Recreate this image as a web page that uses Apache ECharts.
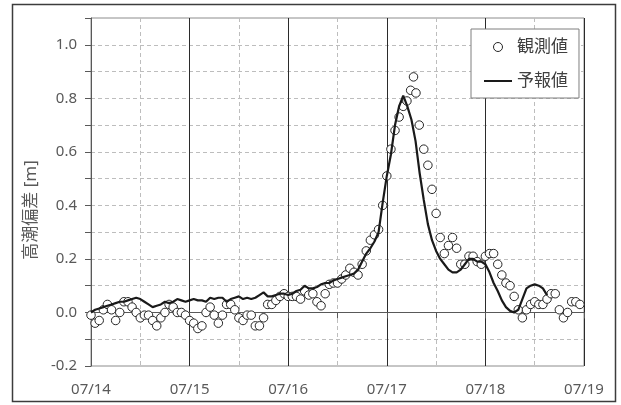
<!DOCTYPE html>
<html>
<head>
<meta charset="utf-8">
<script src="https://cdn.jsdelivr.net/npm/echarts@6/dist/echarts.min.js"></script>
<style>
  html, body { margin: 0; padding: 0; background: #fff; }
  #chart { width: 621px; height: 405px; }
</style>
</head>
<body>
<div id="chart"></div>
<script>
// x軸は 07/14 00時からの経過時間 [h]
const dayLabels = ['07/14', '07/15', '07/16', '07/17', '07/18', '07/19']

// 観測値 (時刻 [h], 偏差 [m])
const obsHours = [
  0, 1, 2, 3, 4, 5, 6, 7, 8, 9, 10, 11, 12, 13, 14, 15, 16, 17, 18, 19,
  20, 21, 22, 23, 24, 25, 26, 27, 28, 29, 30, 31, 32, 33, 34, 35, 36, 37, 38, 39,
  40, 41, 42, 43, 44, 45, 46, 47, 48, 49, 50, 51, 52, 53, 54, 55, 56, 57, 58, 59,
  60, 61, 62, 63, 64, 65, 66, 67, 68, 69, 70, 71, 72, 73, 74, 75, 76, 76.9, 77.8, 78.5,
  79.1, 79.9, 81, 82, 83, 84, 85, 86, 87, 88, 89, 90, 91, 92, 93, 94, 95, 96, 97, 98,
  99, 100, 101, 102, 103, 104, 105, 106, 107, 108, 109, 110, 111, 112, 113, 114, 115, 116, 117, 118, 119
]
const obsValues = [
  -0.01, -0.04, -0.03, 0.01, 0.03, 0.01, -0.03, 0.00, 0.04, 0.04, 0.02, 0.00, -0.02, -0.01, -0.01, -0.03, -0.05, -0.02, 0.00, 0.03,
  0.02, 0.00, 0.00, -0.01, -0.03, -0.04, -0.06, -0.05, 0.00, 0.02, -0.01, -0.04, -0.01, 0.03, 0.03, 0.01, -0.02, -0.03, -0.01, -0.01,
  -0.05, -0.05, -0.02, 0.03, 0.03, 0.045, 0.06, 0.07, 0.06, 0.06, 0.06, 0.05, 0.08, 0.065, 0.07, 0.04, 0.025, 0.07, 0.105, 0.11,
  0.11, 0.125, 0.14, 0.165, 0.15, 0.14, 0.18, 0.23, 0.27, 0.29, 0.31, 0.40, 0.51, 0.61, 0.68, 0.73, 0.77, 0.79, 0.83, 0.88,
  0.82, 0.70, 0.61, 0.55, 0.46, 0.37, 0.28, 0.22, 0.25, 0.28, 0.24, 0.18, 0.18, 0.21, 0.21, 0.19, 0.18, 0.21, 0.22, 0.22,
  0.18, 0.14, 0.11, 0.10, 0.06, 0.01, -0.02, 0.01, 0.03, 0.04, 0.03, 0.03, 0.05, 0.07, 0.07, 0.01, -0.02, 0.00, 0.04, 0.04, 0.03
]

// 予報値 (0時から1時間毎, 07/18 15時まで)
const forecastValues = [
  0.00, 0.01, 0.015, 0.02, 0.025, 0.03, 0.035, 0.04, 0.04, 0.045, 0.05, 0.055, 0.05, 0.04, 0.03, 0.02, 0.025, 0.03, 0.04, 0.035,
  0.04, 0.05, 0.045, 0.04, 0.045, 0.05, 0.045, 0.045, 0.04, 0.055, 0.05, 0.055, 0.055, 0.04, 0.05, 0.055, 0.06, 0.05, 0.055, 0.05,
  0.055, 0.065, 0.075, 0.06, 0.06, 0.065, 0.07, 0.07, 0.065, 0.07, 0.08, 0.085, 0.10, 0.09, 0.09, 0.095, 0.105, 0.11, 0.11, 0.12,
  0.125, 0.13, 0.135, 0.14, 0.145, 0.16, 0.19, 0.22, 0.24, 0.265, 0.30, 0.41, 0.51, 0.59, 0.70, 0.77, 0.81, 0.77, 0.72, 0.64,
  0.52, 0.42, 0.33, 0.27, 0.23, 0.20, 0.18, 0.16, 0.15, 0.15, 0.16, 0.18, 0.20, 0.20, 0.19, 0.19, 0.18, 0.15, 0.11, 0.08,
  0.045, 0.02, 0.006, 0.00, 0.01, 0.05, 0.09, 0.10, 0.105, 0.10, 0.09, 0.065
]

const FONT = "'Noto Sans', 'Noto Sans CJK JP', sans-serif"
const TEXT_COLOR = '#595959'

const chart = echarts.init(document.getElementById('chart'), null, { renderer: 'canvas' })

const obsData = obsHours.map((h, i) => [h, obsValues[i]])
const forecastData = forecastValues.map((v, i) => [i, v])

const option = {
  animation: false,
  backgroundColor: '#fff',
  textStyle: { fontFamily: FONT },
  grid: {
    left: 91,
    top: 18,
    width: 493,
    height: 348,
    show: true,
    borderColor: '#8c8c8c',
    borderWidth: 1
  },
  legend: {
    left: 471,
    top: 29,
    orient: 'vertical',
    backgroundColor: '#fff',
    borderColor: '#7f7f7f',
    borderWidth: 1,
    padding: [8, 11, 7, 13],
    itemGap: 14,
    itemWidth: 28,
    itemHeight: 9,
    textStyle: { fontSize: 17, lineHeight: 20, color: '#404040', fontFamily: FONT },
    data: [
      { name: '観測値', icon: 'circle', itemStyle: { color: '#fff', borderColor: '#262626', borderWidth: 1 } },
      { name: '予報値', icon: 'path://M0,0 L28,0 L28,2 L0,2 Z', itemStyle: { color: '#1a1a1a', borderWidth: 0 } }
    ]
  },
  xAxis: [
    {
      // 12時間毎の破線グリッドと目盛
      type: 'value',
      min: 0,
      max: 120,
      interval: 12,
      axisLine: { show: true, lineStyle: { color: '#595959', width: 1 } },
      axisTick: { show: true, length: 6, lineStyle: { color: '#595959' } },
      axisLabel: { show: false },
      splitLine: { show: true, lineStyle: { color: '#bdbdbd', type: [4, 3], width: 1 } }
    },
    {
      // 日毎の実線グリッドとラベル
      type: 'value',
      min: 0,
      max: 120,
      interval: 24,
      position: 'bottom',
      axisLine: { show: false },
      axisTick: { show: false },
      axisLabel: {
        margin: 16,
        fontSize: 15,
        color: TEXT_COLOR,
        fontFamily: FONT,
        formatter: (v) => dayLabels[Math.round(v / 24)] || ''
      },
      splitLine: { show: true, lineStyle: { color: '#2b2b2b', width: 1 } }
    }
  ],
  yAxis: {
    type: 'value',
    min: -0.2,
    max: 1.1,
    interval: 0.1,
    axisLine: { show: true, lineStyle: { color: '#595959', width: 1 } },
    axisTick: { show: true, length: 6, lineStyle: { color: '#595959' } },
    axisLabel: {
      margin: 14,
      fontSize: 15,
      color: TEXT_COLOR,
      fontFamily: FONT,
      formatter: (v) => {
        const k = Math.round(v * 10)
        if (k % 2 !== 0 || k > 10) return ''
        return (k / 10).toFixed(1)
      }
    },
    splitLine: {
      show: true,
      showMinLine: false,
      showMaxLine: false,
      lineStyle: { color: '#bdbdbd', type: [4, 3], width: 1 }
    }
  },
  graphic: [
    {
      type: 'rect',
      shape: { x: 12.5, y: 4.5, width: 603, height: 397 },
      style: { fill: 'none', stroke: '#3c3c3c', lineWidth: 1.5 },
      silent: true,
      z: -10
    },
    {
      type: 'text',
      x: 31,
      y: 210,
      rotation: Math.PI / 2,
      style: {
        text: '高潮偏差 [m]',
        font: '17px ' + FONT,
        fill: TEXT_COLOR,
        align: 'center',
        verticalAlign: 'middle'
      }
    }
  ],
  series: [
    {
      name: '観測値',
      type: 'scatter',
      xAxisIndex: 1,
      data: obsData,
      symbol: 'circle',
      symbolSize: 8.5,
      itemStyle: { color: '#fff', borderColor: '#262626', borderWidth: 1, opacity: 1 },
      z: 2
    },
    {
      name: '予報値',
      type: 'line',
      xAxisIndex: 1,
      data: forecastData,
      showSymbol: false,
      symbol: 'none',
      lineStyle: { color: '#1a1a1a', width: 2.2 },
      itemStyle: { color: '#1a1a1a' },
      z: 3
    }
  ]
}

chart.setOption(option)
</script>
</body>
</html>
